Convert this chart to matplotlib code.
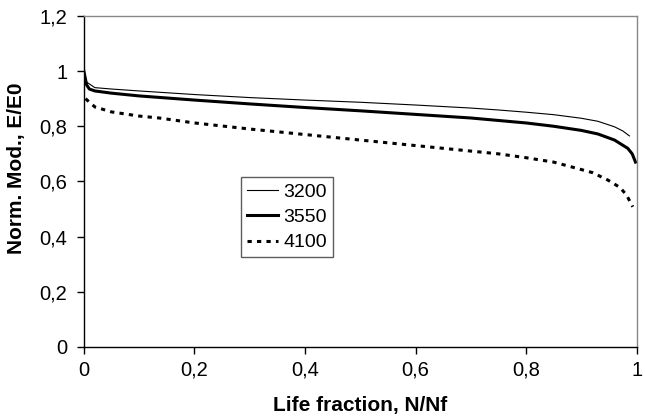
import matplotlib.pyplot as plt
from matplotlib.ticker import FuncFormatter

plt.rcParams['font.family'] = ['Liberation Sans', 'DejaVu Sans']

# Life fraction N/Nf and normalised modulus E/E0 for each stress level
x_3200 = [0, 0.005, 0.02, 0.05, 0.1, 0.2, 0.3, 0.4, 0.5, 0.6, 0.7, 0.75,
          0.8, 0.85, 0.9, 0.93, 0.96, 0.975, 0.987]
y_3200 = [1.0, 0.96, 0.94, 0.935, 0.928, 0.915, 0.904, 0.895, 0.887, 0.877,
          0.866, 0.859, 0.851, 0.842, 0.829, 0.818, 0.798, 0.783, 0.765]

x_3550 = [0, 0.005, 0.01, 0.02, 0.05, 0.1, 0.2, 0.3, 0.4, 0.5, 0.6, 0.7,
          0.75, 0.8, 0.85, 0.9, 0.93, 0.96, 0.984, 0.992, 0.998]
y_3550 = [1.0, 0.95, 0.935, 0.928, 0.92, 0.91, 0.895, 0.881, 0.868, 0.856,
          0.843, 0.83, 0.821, 0.812, 0.80, 0.785, 0.772, 0.75, 0.72, 0.70, 0.67]

x_4100 = [0.003, 0.02, 0.05, 0.1, 0.136, 0.2, 0.3, 0.4, 0.5, 0.6, 0.7, 0.75,
          0.8, 0.85, 0.889, 0.92, 0.948, 0.97, 0.982, 0.993]
y_4100 = [0.90, 0.87, 0.852, 0.837, 0.83, 0.812, 0.79, 0.77, 0.75, 0.73,
          0.71, 0.70, 0.686, 0.67, 0.649, 0.632, 0.605, 0.578, 0.55, 0.508]

fig = plt.figure(figsize=(6.45, 4.19), dpi=100)
ax = fig.add_axes([0.130, 0.172, 0.857, 0.790])

ax.plot(x_3200, y_3200, color="black", lw=0.8, label="3200")
ax.plot(x_3550, y_3550, color="black", lw=2.2, label="3550")
ax.plot(x_4100, y_4100, color="black", lw=2.2, linestyle=(0, (1.4, 1.7)),
        label="4100")

ax.set_xlim(0, 1)
ax.set_ylim(0, 1.2)
ax.set_xticks([0, 0.2, 0.4, 0.6, 0.8, 1])
ax.set_yticks([0, 0.2, 0.4, 0.6, 0.8, 1, 1.2])

comma = FuncFormatter(lambda v, p: f"{v:g}".replace(".", ","))
ax.xaxis.set_major_formatter(comma)
ax.yaxis.set_major_formatter(comma)
ax.tick_params(labelsize=14.5, length=5, width=1, color="black")
ax.tick_params(axis="y", pad=7)
ax.tick_params(axis="x", pad=5)

for side in ["left", "bottom"]:
    ax.spines[side].set_color("black")
    ax.spines[side].set_linewidth(1)
for side in ["top", "right"]:
    ax.spines[side].set_color("#888888")
    ax.spines[side].set_linewidth(1)

ax.set_xlabel("Life fraction, N/Nf", fontsize=15, fontweight="bold", labelpad=12)
ax.set_ylabel("Norm. Mod., E/E0", fontsize=15, fontweight="bold")
ax.yaxis.set_label_coords(-0.105, 0.54)

leg = ax.legend(loc="upper left", bbox_to_anchor=(0.284, 0.513), fontsize=14,
                frameon=True, fancybox=False, edgecolor="#333333",
                handlelength=1.6, handletextpad=0.3, borderpad=0.3,
                labelspacing=0.4, borderaxespad=0)
leg.get_frame().set_linewidth(1)

fig.savefig("out.png", dpi=100)
